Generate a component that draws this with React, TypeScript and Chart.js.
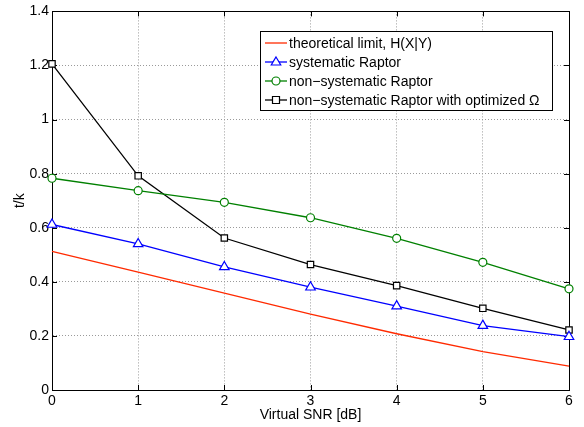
import React, { useEffect, useRef } from "react";
import { Chart, registerables } from "chart.js";

Chart.register(...registerables);

const snr = [0, 1, 2, 3, 4, 5, 6];
const theoretical = [0.513, 0.436, 0.358, 0.281, 0.208, 0.142, 0.088];
const systematic = [0.612, 0.540, 0.455, 0.380, 0.310, 0.238, 0.197];
const nonSystematic = [0.783, 0.737, 0.694, 0.637, 0.561, 0.472, 0.374];
const optimized = [1.206, 0.792, 0.562, 0.464, 0.386, 0.302, 0.222];
const seriesLabels = [
  "theoretical limit, H(X|Y)",
  "systematic Raptor",
  "non\u2212systematic Raptor",
  "non\u2212systematic Raptor with optimized \u03A9",
];
const xTitle = "Virtual SNR [dB]";
const yTitle = "t/k";

const FAMILY = "'Liberation Sans', Arial, Helvetica, sans-serif";
const FONT = "14px " + FAMILY;

function drawMarker(ctx: CanvasRenderingContext2D, style: string, x: number, y: number, color: string) {
  ctx.save();
  ctx.strokeStyle = color;
  ctx.fillStyle = "#ffffff";
  ctx.lineWidth = 1.2;
  ctx.beginPath();
  if (style === "triangle") {
    const r = 5;
    ctx.moveTo(x, y - r);
    ctx.lineTo(x + r * 0.95, y + r * 0.6);
    ctx.lineTo(x - r * 0.95, y + r * 0.6);
    ctx.closePath();
  } else if (style === "circle") {
    ctx.arc(x, y, 4, 0, Math.PI * 2);
  } else if (style === "rect") {
    ctx.rect(x - 3.5, y - 3.5, 7, 7);
  } else {
    ctx.restore();
    return;
  }
  ctx.fill();
  ctx.stroke();
  ctx.restore();
}

const framePlugin = {
  id: "frame",
  beforeDatasetsDraw(chart: any) {
    const ctx: CanvasRenderingContext2D = chart.ctx;
    const { left, right, top, bottom } = chart.chartArea;
    const xs = chart.scales.x;
    const ys = chart.scales.y;
    ctx.save();
    ctx.strokeStyle = "#000";
    ctx.lineWidth = 1;
    ctx.strokeRect(Math.round(left) + 0.5, Math.round(top) + 0.5, Math.round(right - left), Math.round(bottom - top));
    const tl = 5;
    ctx.beginPath();
    xs.ticks.forEach((t: any) => {
      const px = Math.round(xs.getPixelForValue(t.value)) + 0.5;
      ctx.moveTo(px, bottom);
      ctx.lineTo(px, bottom - tl);
      ctx.moveTo(px, top);
      ctx.lineTo(px, top + tl);
    });
    ys.ticks.forEach((t: any) => {
      const py = Math.round(ys.getPixelForValue(t.value)) + 0.5;
      ctx.moveTo(left, py);
      ctx.lineTo(left + tl, py);
      ctx.moveTo(right, py);
      ctx.lineTo(right - tl, py);
    });
    ctx.stroke();
    ctx.restore();
  },
  afterDraw(chart: any) {
    const ctx: CanvasRenderingContext2D = chart.ctx;
    const { left, right, top, bottom } = chart.chartArea;
    ctx.save();
    // axis titles
    ctx.fillStyle = "#000";
    ctx.font = FONT;
    ctx.textAlign = "center";
    ctx.textBaseline = "middle";
    ctx.fillText(xTitle, (left + right) / 2, 415);
    ctx.save();
    ctx.translate(20, (top + bottom) / 2);
    ctx.rotate(-Math.PI / 2);
    ctx.fillText(yTitle, 0, 0);
    ctx.restore();

    // legend
    const bx = 260, by = 31, bw = 292, bh = 79;
    ctx.fillStyle = "#fff";
    ctx.fillRect(bx, by, bw, bh);
    ctx.strokeStyle = "#000";
    ctx.lineWidth = 1;
    ctx.strokeRect(bx + 0.5, by + 0.5, bw, bh);
    ctx.textAlign = "left";
    chart.data.datasets.forEach((ds: any, i: number) => {
      const cy = 43 + i * 19;
      ctx.strokeStyle = ds.borderColor;
      ctx.lineWidth = 1.3;
      ctx.beginPath();
      ctx.moveTo(265, cy);
      ctx.lineTo(287, cy);
      ctx.stroke();
      drawMarker(ctx, ds.pointRadius > 0 ? ds.pointStyle : "none", 276, cy, ds.borderColor);
      ctx.fillStyle = "#000";
      ctx.fillText(ds.label, 289, cy + 1);
    });
    ctx.restore();
  },
};

const fmt = (v: any) => String(Math.round(Number(v) * 10) / 10);

export default function App() {
  const ref = useRef<HTMLCanvasElement>(null);
  useEffect(() => {
    document.body.style.margin = "0";
    const mk = (label: string, data: number[], color: string, style: string, radius: number) => ({
      label,
      data: snr.map((x, i) => ({ x, y: data[i] })),
      borderColor: color,
      backgroundColor: color,
      pointBackgroundColor: "#ffffff",
      pointBorderColor: color,
      pointBorderWidth: 1.2,
      pointStyle: style,
      pointRadius: radius,
      borderWidth: 1.3,
      tension: 0,
      clip: false as any,
    });
    const chart = new Chart(ref.current!, {
      type: "line",
      data: {
        datasets: [
          mk(seriesLabels[0], theoretical, "#ff2a00", "circle", 0),
          mk(seriesLabels[1], systematic, "#0000ff", "triangle", 5.5),
          mk(seriesLabels[2], nonSystematic, "#008000", "circle", 4),
          mk(seriesLabels[3], optimized, "#000000", "rect", 4.5),
        ],
      },
      options: {
        animation: false,
        responsive: false,
        maintainAspectRatio: false,
        layout: { padding: { top: 9, right: 15, left: 0, bottom: 0 } },
        plugins: { legend: { display: false }, tooltip: { enabled: false } },
        scales: {
          x: {
            type: "linear",
            min: 0,
            max: 6,
            ticks: { stepSize: 1, color: "#000", font: { size: 14, family: FAMILY }, padding: 3, callback: fmt },
            grid: { color: "#9a9a9a", drawTicks: false, lineWidth: 1 },
            border: { display: true, color: "#000", dash: [1, 2] },
            afterFit: (s: any) => { s.height = 37; },
          },
          y: {
            type: "linear",
            min: 0,
            max: 1.4,
            ticks: { stepSize: 0.2, color: "#000", font: { size: 14, family: FAMILY }, padding: 3, callback: fmt },
            grid: { color: "#9a9a9a", drawTicks: false, lineWidth: 1 },
            border: { display: true, color: "#000", dash: [1, 2] },
            afterFit: (s: any) => { s.width = 52; },
          },
        },
      },
      plugins: [framePlugin],
    });
    return () => chart.destroy();
  }, []);
  return (
    <div style={{ width: 584, height: 427 }}>
      <canvas ref={ref} width={584} height={427} style={{ display: "block" }} />
    </div>
  );
}
